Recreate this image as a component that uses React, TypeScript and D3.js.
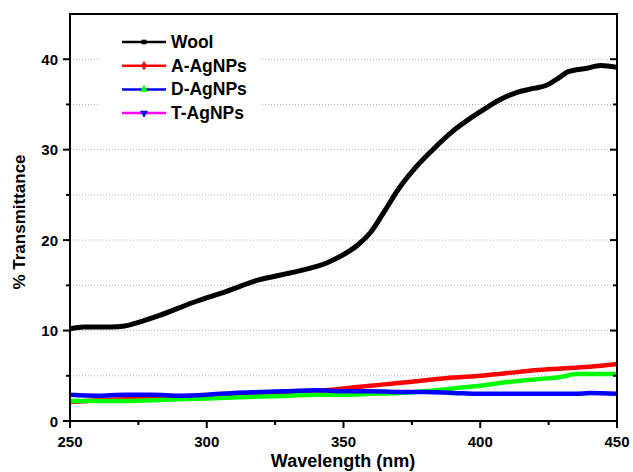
import { useEffect, useRef } from 'react';
import * as d3 from 'd3';

const wavelengths = [250, 255, 260, 265, 270, 275, 283, 295, 307, 319, 331, 344, 350, 355, 360, 365, 370, 376, 382, 389, 400, 407, 414, 420, 424, 429, 432, 439, 444, 450];
const wool = [10.2, 10.4, 10.4, 10.4, 10.5, 10.9, 11.7, 13.1, 14.3, 15.6, 16.4, 17.5, 18.4, 19.4, 20.9, 23.2, 25.6, 27.9, 29.8, 31.8, 34.2, 35.5, 36.4, 36.8, 37.1, 38.0, 38.6, 39.0, 39.3, 39.1];

const lowWavelengths = [250, 260, 270, 280, 290, 300, 310, 320, 330, 340, 350, 360, 370, 380, 390, 400, 410, 420, 430, 435, 440, 450];
const aAgNPs = [2.1, 2.3, 2.4, 2.5, 2.5, 2.6, 2.8, 3.0, 3.2, 3.3, 3.6, 3.9, 4.2, 4.5, 4.8, 5.0, 5.3, 5.6, 5.8, 5.9, 6.0, 6.3];
const dAgNPs = [2.2, 2.2, 2.2, 2.3, 2.4, 2.5, 2.6, 2.7, 2.8, 2.9, 2.9, 3.0, 3.1, 3.3, 3.6, 3.9, 4.3, 4.6, 4.9, 5.2, 5.2, 5.2];
const tAgNPs = [2.9, 2.8, 2.9, 2.9, 2.8, 2.9, 3.1, 3.2, 3.3, 3.4, 3.3, 3.3, 3.2, 3.2, 3.1, 3.0, 3.0, 3.0, 3.0, 3.0, 3.1, 3.0];

const xTicks = [250, 300, 350, 400, 450];
const yTicks = [0, 10, 20, 30, 40];
const gridValues = [5, 10, 15, 20, 25, 30, 35, 40];

const legendItems = [
  { name: 'Wool', line: '#000000', marker: '#000000', shape: d3.symbolSquare },
  { name: 'A-AgNPs', line: '#ff0000', marker: '#ff0000', shape: d3.symbolDiamond },
  { name: 'D-AgNPs', line: '#0000ff', marker: '#00ff00', shape: d3.symbolTriangle },
  { name: 'T-AgNPs', line: '#ff00ff', marker: '#0000ff', shape: d3.symbolTriangle, flip: true },
];

const App = () => {
  const svgRef = useRef<SVGSVGElement>(null);

  useEffect(() => {
    const svg = d3.select(svgRef.current);
    svg.selectAll('*').remove();

    const left = 70, right = 617, top = 14, bottom = 421;
    const x = d3.scaleLinear().domain([250, 450]).range([left, right]);
    const y = d3.scaleLinear().domain([0, 45]).range([bottom, top]);
    const font = 'Liberation Sans, Arial, sans-serif';

    // dotted grid
    svg.append('g').selectAll('line').data(gridValues).enter().append('line')
      .attr('x1', left).attr('x2', right)
      .attr('y1', d => y(d)).attr('y2', d => y(d))
      .attr('stroke', '#b0b0b0').attr('stroke-width', 1)
      .attr('stroke-dasharray', '1,2');

    // legend background hides grid
    svg.append('rect').attr('x', 100).attr('y', 24).attr('width', 160).attr('height', 100).attr('fill', '#fff');

    const drawSeries = (xs: number[], ys: number[], color: string, w: number) => {
      const l = d3.line<number>()
        .x((_, i) => x(xs[i]))
        .y(d => y(d))
        .curve(d3.curveMonotoneX);
      svg.append('path').datum(ys)
        .attr('d', l)
        .attr('fill', 'none')
        .attr('stroke', color)
        .attr('stroke-width', w)
        .attr('stroke-linejoin', 'round');
    };

    drawSeries(wavelengths, wool, '#000000', 5);
    drawSeries(lowWavelengths, aAgNPs, '#ff0000', 4.5);
    drawSeries(lowWavelengths, dAgNPs, '#00ff00', 4.5);
    drawSeries(lowWavelengths, tAgNPs, '#0000ff', 4.5);

    // frame
    svg.append('rect')
      .attr('x', left).attr('y', top).attr('width', right - left).attr('height', bottom - top)
      .attr('fill', 'none').attr('stroke', '#000').attr('stroke-width', 2);

    // ticks
    const yMinor = d3.range(5, 45, 10);
    const tg = svg.append('g').attr('stroke', '#000').attr('stroke-width', 2);
    yTicks.forEach(v => {
      tg.append('line').attr('x1', left - 7).attr('x2', left).attr('y1', y(v)).attr('y2', y(v));
      tg.append('line').attr('x1', right - 7).attr('x2', right).attr('y1', y(v)).attr('y2', y(v));
    });
    yMinor.forEach(v => {
      tg.append('line').attr('x1', left - 4).attr('x2', left).attr('y1', y(v)).attr('y2', y(v));
      tg.append('line').attr('x1', right - 4).attr('x2', right).attr('y1', y(v)).attr('y2', y(v));
    });
    xTicks.forEach(v => {
      tg.append('line').attr('x1', x(v)).attr('x2', x(v)).attr('y1', bottom).attr('y2', bottom + 7);
    });
    d3.range(275, 450, 50).forEach(v => {
      tg.append('line').attr('x1', x(v)).attr('x2', x(v)).attr('y1', bottom).attr('y2', bottom + 4);
    });

    // tick labels
    svg.append('g').selectAll('text').data(yTicks).enter().append('text')
      .attr('x', left - 12).attr('y', d => y(d) + 5.5)
      .attr('text-anchor', 'end')
      .style('font-family', font).style('font-weight', 'bold').style('font-size', '15px')
      .text(d => d);
    svg.append('g').selectAll('text').data(xTicks).enter().append('text')
      .attr('x', d => x(d)).attr('y', bottom + 26)
      .attr('text-anchor', 'middle')
      .style('font-family', font).style('font-weight', 'bold').style('font-size', '15px')
      .text(d => d);

    // axis titles
    svg.append('text')
      .attr('x', 343).attr('y', 467)
      .attr('text-anchor', 'middle')
      .style('font-family', font).style('font-weight', 'bold').style('font-size', '18px')
      .text('Wavelength (nm)');
    svg.append('text')
      .attr('transform', `translate(25, 222) rotate(-90)`)
      .attr('text-anchor', 'middle')
      .style('font-family', font).style('font-weight', 'bold').style('font-size', '17px')
      .text('% Transmittance');

    // legend
    const lg = svg.append('g');
    legendItems.forEach((item, i) => {
      const cy = 42 + i * 23.7;
      lg.append('line').attr('x1', 122).attr('x2', 166).attr('y1', cy).attr('y2', cy)
        .attr('stroke', item.line).attr('stroke-width', 2.5);
      lg.append('path')
        .attr('d', d3.symbol().type(item.shape).size(item.shape === d3.symbolSquare ? 22 : 28)())
        .attr('transform', `translate(144, ${cy}) ${item.flip ? 'rotate(180)' : ''}`)
        .attr('fill', item.marker);
      lg.append('text')
        .attr('x', 171).attr('y', cy + 6)
        .style('font-family', font).style('font-weight', 'bold').style('font-size', '17.5px')
        .text(item.name);
    });
  }, []);

  return (
    <div style={{ position: 'fixed', left: 0, top: 0 }}>
      <svg ref={svgRef} width={633} height={472} style={{ display: 'block', background: '#fff' }}></svg>
    </div>
  );
};

export default App;
